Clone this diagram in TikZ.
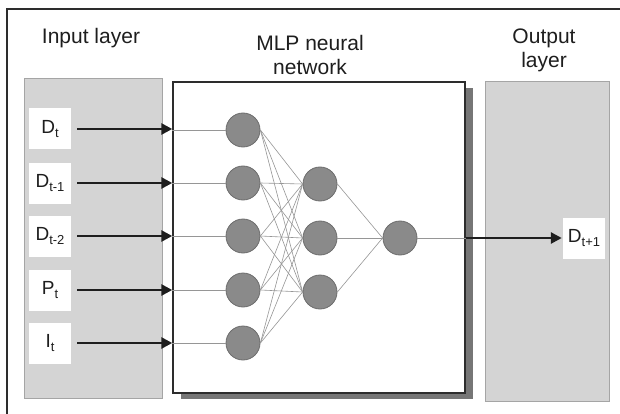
\documentclass[tikz,border=0pt]{standalone}
\usepackage{fontspec}
\setmainfont{Liberation Sans}
\usetikzlibrary{arrows.meta}
\definecolor{panelgray}{RGB}{212,212,212}
\definecolor{panelline}{RGB}{165,165,165}
\definecolor{neuronfill}{RGB}{138,138,138}
\definecolor{neuronline}{RGB}{108,108,108}
\definecolor{wiregray}{RGB}{150,150,150}
\definecolor{shadowgray}{RGB}{118,118,118}
\definecolor{framegray}{RGB}{45,45,45}
\definecolor{inkgray}{RGB}{30,30,30}
% lowered small index after a variable name
\newcommand\idx[1]{\raisebox{-4pt}{\fontsize{13}{13}\selectfont #1}}

\begin{document}
\begin{tikzpicture}[x=1pt,y=-1pt,
  panel/.style={fill=panelgray,draw=panelline,line width=1pt,inner sep=0pt},
  netbox/.style={fill=white,draw=framegray,line width=1.4pt,inner sep=0pt},
  shadowbox/.style={fill=shadowgray,draw=none,inner sep=0pt},
  neuron/.style={circle,fill=neuronfill,draw=neuronline,line width=0.8pt,minimum size=34pt,inner sep=0pt},
  wire/.style={draw=wiregray,line width=0.6pt},
  feed/.style={draw=inkgray,line width=2.6pt,-{Triangle[length=11pt,width=11pt]}},
  varbox/.style={fill=white,minimum width=42pt,minimum height=41pt,inner sep=0pt,text=inkgray,font=\fontsize{19}{19}\selectfont},
  title/.style={font=\fontsize{21}{24}\selectfont,align=center,text=inkgray}]

\useasboundingbox (0,0) rectangle (620,414);
\fill[white] (0,0) rectangle (620,414);

% frame
\draw[framegray,line width=1.2pt] (7,414) -- (7,9) -- (620,9);

% titles
\node[title] (tin) at (91,38) {Input layer};
\node[title] (tnet) at (310,55) {MLP neural\\network};
\node[title] (tout) at (544,50) {Output\\layer};

% panels
\node[panel,minimum width=138pt,minimum height=319pt] (inpanel) at (93,238.5) {};
\node[panel,minimum width=124pt,minimum height=319pt] (outpanel) at (547,241.5) {};
\node[shadowbox,minimum width=292pt,minimum height=311pt] (shadow) at (327,243.5) {};
\node[netbox,minimum width=292pt,minimum height=311pt] (mlp) at (319,237.5) {};

% neurons
\node[neuron] (i1) at (243,130) {};
\node[neuron] (i2) at (243,183) {};
\node[neuron] (i3) at (243,236) {};
\node[neuron] (i4) at (243,290) {};
\node[neuron] (i5) at (243,343) {};
\node[neuron] (h1) at (320,184) {};
\node[neuron] (h2) at (320,238) {};
\node[neuron] (h3) at (320,292) {};
\node[neuron] (o) at (400,238) {};

% connections
\foreach \i in {1,...,5}
  \foreach \h in {1,2,3}
    \draw[wire] (i\i.east) -- (h\h.west);
\foreach \h in {1,2,3}
  \draw[wire] (h\h.east) -- (o.west);

% input variables
\node[varbox] (v1) at (50,129) {D\idx{t}};
\node[varbox] (v2) at (50,183) {D\idx{t-1}};
\node[varbox] (v3) at (50,236) {D\idx{t-2}};
\node[varbox] (v4) at (50,290) {P\idx{t}};
\node[varbox] (v5) at (50,343) {I\idx{t}};

\foreach \k in {1,...,5}{
  \draw[feed,shorten <=6pt] (v\k.east) -- (v\k.east -| mlp.west);
  \draw[wire] (i\k -| mlp.west) -- (i\k.west);
}

% output variable
\node[varbox] (y) at (584,238) {D\idx{t+1}};
\draw[wire] (o.east) -- (o -| mlp.east);
\draw[feed,shorten >=1pt] (o -| mlp.east) -- (y.west);
\end{tikzpicture}
\end{document}
